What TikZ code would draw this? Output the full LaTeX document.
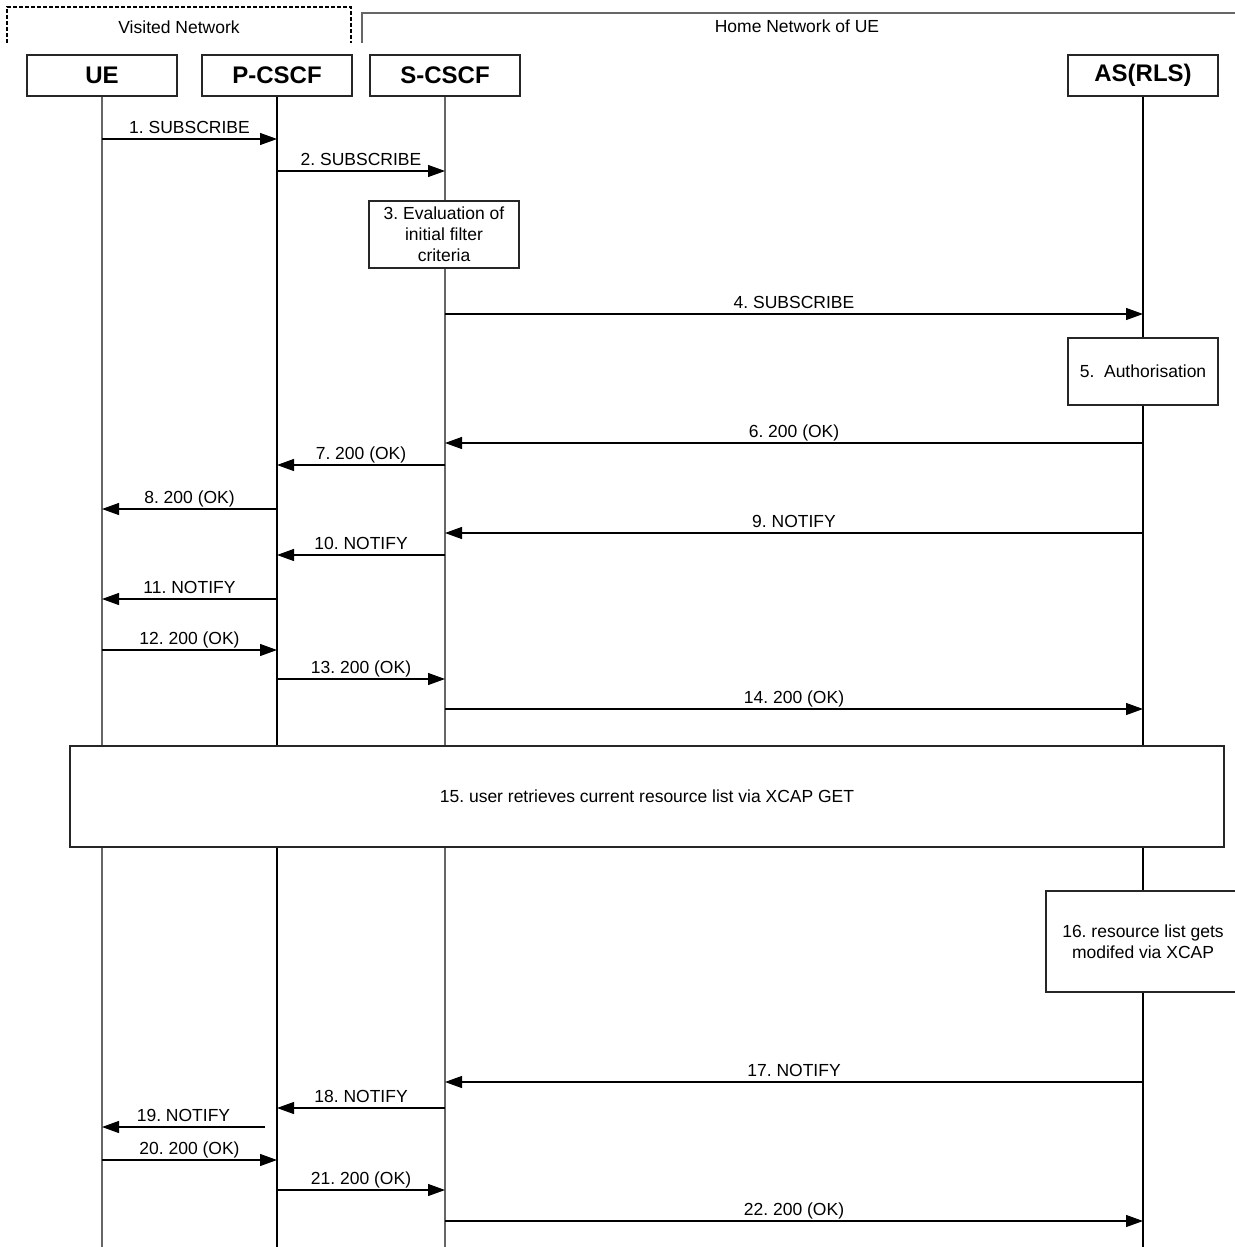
\documentclass[tikz,border=0pt]{standalone}
\usepackage{fontspec}
\setmainfont{Liberation Sans}
\usetikzlibrary{arrows.meta}
\frenchspacing
\begin{document}
\begin{tikzpicture}[x=1pt,y=-1pt,
  actor/.style={draw=black!85, line width=1.1pt, minimum width=150pt, minimum height=41pt,
    inner sep=0pt, font=\fontsize{24}{28}\selectfont\bfseries},
  life/.style={line width=1.1pt},
  lifeg/.style={line width=1.1pt, draw=black!60},
  msg/.style={line width=1.1pt, -{Triangle[length=17pt,width=12pt]}},
  lbl/.style={midway, anchor=base, yshift=6pt, inner sep=0pt, font=\fontsize{17.5}{21}\selectfont},
  procbox/.style={draw=black!85, fill=white, line width=1.1pt, align=center, inner sep=0pt,
    font=\fontsize{17.5}{21}\selectfont},
  plain/.style={inner sep=0pt, font=\fontsize{17.5}{21}\selectfont}
]
\useasboundingbox (0,0) rectangle (1234,1247);

% network frames
\draw[line width=1.1pt, dash pattern=on 4pt off 2pt] (7,43) -- (7,7) -- (351,7) -- (351,43);
\node[plain] (vn) at (179,27) {Visited Network};
\draw[line width=1.1pt, draw=black!60] (362,43) -- (362,13) -- (1240,13);
\node[plain] (hn) at (797,26) {Home Network of UE};

% actors
\node[actor] (ue) at (102,75.5) {UE};
\node[actor] (pcscf) at (277,75.5) {P-CSCF};
\node[actor] (scscf) at (445,75.5) {S-CSCF};
\node[actor] (as) at (1143,75.5) {AS(RLS)};

% lifelines
\coordinate (ueEnd) at (102,1247);
\coordinate (pEnd) at (277,1247);
\coordinate (sEnd) at (445,1247);
\coordinate (asEnd) at (1143,1247);
\draw[lifeg] (ue.south) -- (ueEnd);
\draw[life] (pcscf.south) -- (pEnd);
\draw[lifeg] (scscf.south) -- (sEnd);
\draw[life] (as.south) -- (asEnd);

% boxes
\node[procbox, minimum width=150pt, minimum height=67pt] (eval) at (444,234.5)
  {3. Evaluation of\\initial filter\\criteria};
\node[procbox, minimum width=150pt, minimum height=67pt] (auth) at (1143,371.5)
  {5.\ \ Authorisation};
\node[procbox, minimum width=1154pt, minimum height=101pt] (xcap) at (647,796.5)
  {15. user retrieves current resource list via XCAP GET};
\node[procbox, minimum width=194pt, minimum height=101pt] (modif) at (1143,941.5)
  {16. resource list gets\\modifed via XCAP};

% messages
\draw[msg] (ue |- 0,139) -- node[lbl]{1. SUBSCRIBE} (pcscf |- 0,139);
\draw[msg] (pcscf |- 0,171) -- node[lbl]{2. SUBSCRIBE} (scscf |- 0,171);
\draw[msg] (scscf |- 0,314) -- node[lbl]{4. SUBSCRIBE} (as |- 0,314);
\draw[msg] (as |- 0,443) -- node[lbl]{6. 200 (OK)} (scscf |- 0,443);
\draw[msg] (scscf |- 0,465) -- node[lbl]{7. 200 (OK)} (pcscf |- 0,465);
\draw[msg] (pcscf |- 0,509) -- node[lbl]{8. 200 (OK)} (ue |- 0,509);
\draw[msg] (as |- 0,533) -- node[lbl]{9. NOTIFY} (scscf |- 0,533);
\draw[msg] (scscf |- 0,555) -- node[lbl]{10. NOTIFY} (pcscf |- 0,555);
\draw[msg] (pcscf |- 0,599) -- node[lbl]{11. NOTIFY} (ue |- 0,599);
\draw[msg] (ue |- 0,650) -- node[lbl]{12. 200 (OK)} (pcscf |- 0,650);
\draw[msg] (pcscf |- 0,679) -- node[lbl]{13. 200 (OK)} (scscf |- 0,679);
\draw[msg] (scscf |- 0,709) -- node[lbl]{14. 200 (OK)} (as |- 0,709);
\draw[msg] (as |- 0,1082) -- node[lbl]{17. NOTIFY} (scscf |- 0,1082);
\draw[msg] (scscf |- 0,1108) -- node[lbl]{18. NOTIFY} (pcscf |- 0,1108);
\coordinate (n19) at (265,1127);
\draw[msg] (n19) -- node[lbl]{19. NOTIFY} (ue |- 0,1127);
\draw[msg] (ue |- 0,1160) -- node[lbl]{20. 200 (OK)} (pcscf |- 0,1160);
\draw[msg] (pcscf |- 0,1190) -- node[lbl]{21. 200 (OK)} (scscf |- 0,1190);
\draw[msg] (scscf |- 0,1221) -- node[lbl]{22. 200 (OK)} (as |- 0,1221);
\end{tikzpicture}
\end{document}
